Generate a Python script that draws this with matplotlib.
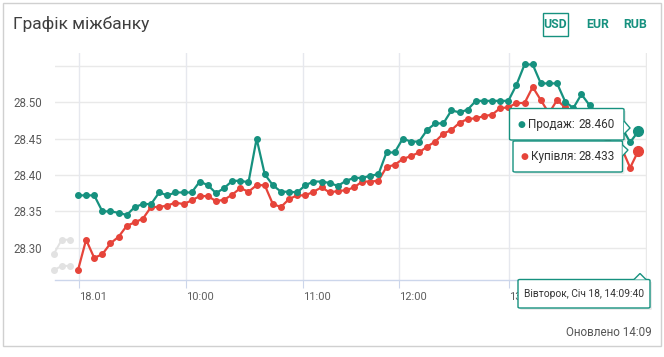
import matplotlib
matplotlib.use("Agg")
import matplotlib.pyplot as plt
from matplotlib.patches import Rectangle, FancyBboxPatch, Polygon
import numpy as np

plt.rcParams['font.family'] = ['Roboto', 'DejaVu Sans']

# ---- data ----
sell = [28.372, 28.372, 28.372, 28.350, 28.350, 28.348, 28.345, 28.356, 28.360, 28.360,
        28.376, 28.372, 28.376, 28.376, 28.376, 28.391, 28.386, 28.375, 28.382, 28.392,
        28.392, 28.390, 28.450, 28.401, 28.386, 28.377, 28.377, 28.376, 28.386, 28.391,
        28.391, 28.389, 28.385, 28.392, 28.396, 28.396, 28.399, 28.401, 28.431, 28.431,
        28.450, 28.446, 28.446, 28.462, 28.471, 28.471, 28.489, 28.486, 28.490, 28.502,
        28.502, 28.502, 28.502, 28.502, 28.524, 28.552, 28.552, 28.526, 28.526, 28.526,
        28.501, 28.492, 28.511, 28.496, 28.485, 28.478, 28.470, 28.465, 28.445, 28.460]
buy = [28.269, 28.311, 28.286, 28.291, 28.306, 28.315, 28.330, 28.335, 28.340, 28.356,
       28.356, 28.358, 28.362, 28.360, 28.365, 28.371, 28.371, 28.364, 28.366, 28.373,
       28.382, 28.377, 28.386, 28.386, 28.360, 28.356, 28.367, 28.372, 28.372, 28.377,
       28.383, 28.376, 28.378, 28.379, 28.383, 28.391, 28.391, 28.392, 28.411, 28.414,
       28.422, 28.426, 28.431, 28.439, 28.446, 28.457, 28.462, 28.472, 28.477, 28.478,
       28.481, 28.483, 28.492, 28.493, 28.499, 28.499, 28.521, 28.503, 28.485, 28.503,
       28.493, 28.488, 28.483, 28.475, 28.462, 28.452, 28.442, 28.436, 28.410, 28.433]
ghost_sell = [28.291, 28.311, 28.311]
ghost_buy = [28.269, 28.275, 28.275]
ghost_idx = [-3, -2, -1]

x_tick_pos = [0.08, 13.26, 27.7, 39.57, 53.1]
x_tick_labels = ["18.01", "10:00", "11:00", "12:00", "13:00"]
y_ticks = [28.30, 28.35, 28.40, 28.45, 28.50]
y_grid_extra = [28.55]

title = "Графік міжбанку"
currencies = ["USD", "EUR", "RUB"]
sell_label, buy_label = "Продаж", "Купівля"
sell_now, buy_now = "28.460", "28.433"
stamp = "Вівторок, Січ 18, 14:09:40"
updated = "Оновлено 14:09"

GREEN = '#16917f'
RED = '#e6443a'
W, H = 664, 357

fig = plt.figure(figsize=(W / 100, H / 100), dpi=100)

def fx(x):
    return x / W

def fy(y):
    return 1 - y / H

# card border
fig.patches.append(Rectangle((fx(3), fy(346)), fx(658), (343) / H, transform=fig.transFigure,
                             fill=False, edgecolor='#d0d0d0', lw=1.0, zorder=0))

ax = fig.add_axes([fx(55), fy(280), fx(646.7 - 55), (280 - 53) / H])
ax.set_xlim(-2.83, 70.04)
ax.set_ylim(28.2556, 28.5678)
for s in ['top', 'left', 'right']:
    ax.spines[s].set_visible(False)
ax.spines['bottom'].set_color('#ccd6eb')
ax.spines['bottom'].set_linewidth(1)

for yv in y_ticks + y_grid_extra:
    ax.axhline(yv, color='#e9e9e9', lw=1, zorder=0)
for xv in x_tick_pos:
    ax.axvline(xv, color='#e6e8ee', lw=1, zorder=0)
ax.axvline(70.0, color='#e9e9e9', lw=1, zorder=0)

ax.set_yticks(y_ticks)
ax.set_yticklabels([f"{v:.2f}" for v in y_ticks])
ax.tick_params(axis='y', length=0, pad=9.5, labelsize=8.3, labelcolor='#5a5a5a')
ax.set_xticks(x_tick_pos)
ax.set_xticklabels(x_tick_labels, ha='left')
ax.tick_params(axis='x', length=6, color='#ccd6eb', pad=2.5, labelsize=8, labelcolor='#5f5f5f')

idx = np.arange(len(sell))
ax.plot(ghost_idx, ghost_sell, color='#e2e2e2', lw=1.4, marker='o', ms=4.0, zorder=1, clip_on=False)
ax.plot(ghost_idx, ghost_buy, color='#e2e2e2', lw=1.4, marker='o', ms=4.0, zorder=1, clip_on=False)
ax.plot(idx, buy, color=RED, lw=1.6, marker='o', ms=4.0, zorder=2)
ax.plot(idx, sell, color=GREEN, lw=1.6, marker='o', ms=4.0, zorder=3)
ax.plot(idx[-1:], buy[-1:], 'o', color=RED, ms=7, zorder=4, clip_on=False)
ax.plot(idx[-1:], sell[-1:], 'o', color=GREEN, ms=7, zorder=4, clip_on=False)

# title and currency buttons
fig.text(fx(13), fy(24), title, fontsize=12.5, color='#3f3f3f', va='center', ha='left')
fig.patches.append(Rectangle((fx(543), fy(36)), fx(25), 23 / H, transform=fig.transFigure,
                             fill=False, edgecolor=GREEN, lw=1.0))
for cx, c in zip([555.5, 597.5, 635], currencies):
    fig.text(fx(cx), fy(24.5), c, fontsize=8.8, color=GREEN, ha='center', va='center',
             fontweight='bold')

fig.text(fx(652), fy(333), updated, fontsize=8.4, color='#555555', ha='right', va='center')

# tooltips
def box(x0, y0, x1, y1, ec):
    sh = FancyBboxPatch((fx(x0 + 2), fy(y1 + 2)), fx(x1 - x0), (y1 - y0) / H,
                        boxstyle='round,pad=0,rounding_size=0.003', transform=fig.transFigure,
                        facecolor='#000000', alpha=0.08, edgecolor='none', zorder=5)
    b = FancyBboxPatch((fx(x0), fy(y1)), fx(x1 - x0), (y1 - y0) / H,
                       boxstyle='round,pad=0,rounding_size=0.003', transform=fig.transFigure,
                       facecolor='white', edgecolor=ec, lw=1.0, zorder=6)
    fig.patches.append(sh)
    fig.patches.append(b)

def arrow(pts, ec):
    p = Polygon([(fx(a), fy(b)) for a, b in pts], closed=False, transform=fig.transFigure,
                facecolor='white', edgecolor=ec, lw=1.0, zorder=7)
    fig.patches.append(p)

box(509.5, 108.5, 624, 140, GREEN)
arrow([(624, 121), (630, 128), (624, 134)], GREEN)
box(513, 141, 622.5, 172, GREEN)
arrow([(622.5, 145), (628, 150), (622.5, 156)], GREEN)
box(518, 279.5, 650, 308, GREEN)
arrow([(634, 279.5), (640, 273.5), (646, 279.5)], GREEN)

fs_tt = 8.5
fig.text(fx(521.5), fy(124.5), "●", fontsize=6.5, color=GREEN, ha='center', va='center', zorder=8)
fig.text(fx(528), fy(124.5), sell_label + ":", fontsize=fs_tt, color='#333333', ha='left', va='center', zorder=8)
fig.text(fx(614.5), fy(124.5), sell_now, fontsize=fs_tt, color='#333333', ha='right', va='center', zorder=8)
fig.text(fx(524.5), fy(156.5), "●", fontsize=6.5, color=RED, ha='center', va='center', zorder=8)
fig.text(fx(530.5), fy(156.5), buy_label + ":", fontsize=fs_tt, color='#333333', ha='left', va='center', zorder=8)
fig.text(fx(615), fy(156.5), buy_now, fontsize=fs_tt, color='#333333', ha='right', va='center', zorder=8)
fig.text(fx(584), fy(294), stamp, fontsize=7.4, color='#333333', ha='center', va='center', zorder=8)

fig.savefig('out.png', dpi=100)
